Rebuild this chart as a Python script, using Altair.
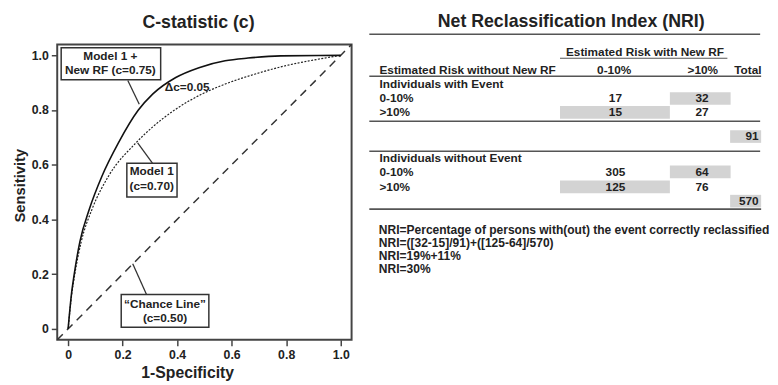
import altair as alt
import pandas as pd

FONT = "Liberation Sans"
INK = "#222222"

# ---------------- ROC data ----------------
fpr_new = [0, 0.012, 0.022, 0.043, 0.078, 0.124, 0.184, 0.257, 0.311, 0.395, 0.48, 0.576, 0.66, 0.78, 1.0]
tpr_new = [0, 0.125, 0.197, 0.318, 0.438, 0.558, 0.679, 0.799, 0.859, 0.919, 0.955, 0.98, 0.99, 0.998, 1.0]
fpr_m1 = [0, 0.013, 0.024, 0.048, 0.088, 0.148, 0.248, 0.311, 0.389, 0.492, 0.576, 0.684, 0.793, 0.913, 1.0]
tpr_m1 = [0, 0.125, 0.197, 0.318, 0.438, 0.558, 0.679, 0.739, 0.799, 0.859, 0.895, 0.931, 0.961, 0.985, 1.0]
chance = [-0.04, 1.04]
axis_ticks = [0, 0.2, 0.4, 0.6, 0.8, 1.0]

box_lines = [["Model 1 +", "New RF (c=0.75)"], ["Model 1", "(c=0.70)"], ["\u201cChance Line\u201d", "(c=0.50)"]]
delta_label = "\u0394c=0.05"

# ---------------- NRI table data ----------------
col_labels = ["0-10%", ">10%"]
row_labels = ["0-10%", ">10%"]
with_event = [[17, 32], [15, 27]]
without_event = [[305, 64], [125, 76]]
totals = [91, 570]
section_labels = ["Individuals with Event", "Individuals without Event"]
formula_lines = [
    "NRI=Percentage of persons with(out) the event correctly reclassified",
    "NRI=([32-15]/91)+([125-64]/570)",
    "NRI=19%+11%",
    "NRI=30%",
]

# ---------------- left panel ----------------
dom = [-0.04, 1.04]
sx = alt.Scale(domain=dom, nice=False, zero=False)
sy = alt.Scale(domain=dom, nice=False, zero=False)
lab_expr = "datum.value == 0 ? '0' : format(datum.value, '.1f')"
X = alt.X("x:Q", scale=sx, axis=alt.Axis(values=axis_ticks, labelExpr=lab_expr, title="1-Specificity",
                                         titleX=132, titleFontSize=16))
Y = alt.Y("y:Q", scale=sy, axis=alt.Axis(values=axis_ticks, labelExpr=lab_expr, title="Sensitivity", titleY=143))

d_chance = pd.DataFrame({"x": chance, "y": chance})
d_new = pd.DataFrame({"x": fpr_new, "y": tpr_new})
d_m1 = pd.DataFrame({"x": fpr_m1, "y": tpr_m1})

l_chance = alt.Chart(d_chance).mark_line(color="#333", strokeWidth=1.5, strokeDash=[8, 6]).encode(x=X, y=Y)
l_new = alt.Chart(d_new).mark_line(color="#111", strokeWidth=1.6, interpolate="monotone").encode(x=X, y=Y)
l_m1 = alt.Chart(d_m1).mark_line(color="#222", strokeWidth=1.2, strokeDash=[2, 1.5], interpolate="monotone").encode(x=X, y=Y)

# annotation geometry (layout)
ptr = pd.DataFrame({
    "x": [0.219, 0.3093, 0.2876], "y": [0.908, 0.6055, 0.1256],
    "x2": [0.261, 0.2551, 0.237], "y2": [0.8215, 0.680, 0.2383],
})
l_ptr = alt.Chart(ptr).mark_rule(color="#333", strokeWidth=1.3).encode(
    x=alt.X("x:Q", scale=sx), y=alt.Y("y:Q", scale=sy), x2="x2:Q", y2="y2:Q")

boxes = pd.DataFrame({
    "x": [-0.0255, 0.2154, 0.1948], "x2": [0.3395, 0.3996, 0.5163],
    "y": [1.028, 0.6055, 0.1256], "y2": [0.9104, 0.482, 0.0058],
})
l_box = alt.Chart(boxes).mark_rect(fill="white", stroke="#333", strokeWidth=1.5).encode(
    x=alt.X("x:Q", scale=sx), y=alt.Y("y:Q", scale=sy), x2="x2:Q", y2="y2:Q")

box_cx = [0.155, 0.3068, 0.3555]
box_ly = [[0.998, 0.9464], [0.578, 0.5216], [0.0922, 0.0382]]
rows = []
for i, lines in enumerate(box_lines):
    for j, t in enumerate(lines):
        rows.append({"x": box_cx[i], "y": box_ly[i][j], "t": t})
rows.append({"x": 0.4368, "y": 0.8842, "t": delta_label})
l_txt = alt.Chart(pd.DataFrame(rows)).mark_text(fontSize=12, fontWeight="bold", color=INK, font=FONT, baseline="middle").encode(
    x=alt.X("x:Q", scale=sx), y=alt.Y("y:Q", scale=sy), text="t:N")

left = alt.layer(l_chance, l_m1, l_new, l_ptr, l_box, l_txt).properties(
    width=299, height=300,
    title=alt.TitleParams("C-statistic (c)", fontSize=18, fontWeight="bold", color=INK, font=FONT, offset=10, dx=-6),
    view=alt.ViewBackground(stroke="#444", strokeWidth=2),
)

# ---------------- right panel (table) ----------------
rx = alt.Scale(domain=[370, 770], nice=False, zero=False)
ry = alt.Scale(domain=[42, 342], nice=False, zero=False, reverse=True)
RX = alt.X("x:Q", scale=rx, axis=None)
RY = alt.Y("y:Q", scale=ry, axis=None)

LEFT_X = 383.3
COL_X = [623, 711]
TOTAL_X = 768.5
row_y = [[97, 111], [171.5, 186.7]]
section_y = [82.3, 157.3]
total_y = [135.6, 201.2]
cell_edges = [(566.7, 678.3), (678.3, 740)]
half_h = 6.4
formula_y = [230.5, 243.8, 257.1, 270.4]

def txt(df, align="center", size=12, **kw):
    return alt.Chart(df).mark_text(fontSize=size, fontWeight="bold", color=INK, font=FONT,
                                   baseline="middle", align=align, **kw).encode(x=RX, y=RY, text="t:N")

# gray boxes: reclassified cells (off-diagonal) and totals
rects = []
for s, mat in enumerate([with_event, without_event]):
    for r in range(2):
        for c in range(2):
            if r != c:
                rects.append({"x": cell_edges[c][0], "x2": cell_edges[c][1],
                              "y": row_y[s][r] - half_h, "y2": row_y[s][r] + half_h})
    rects.append({"x": 739.5, "x2": 771, "y": total_y[s] - half_h, "y2": total_y[s] + half_h})
r_rect = alt.Chart(pd.DataFrame(rects)).mark_rect(fill="#d3d3d3").encode(x=RX, y=RY, x2="x2:Q", y2="y2:Q")

rules = pd.DataFrame({"x": [373] * 5, "x2": [770, 771, 770, 770, 771], "y": [31.7, 74.3, 120, 150.5, 209.3]})
r_rule = alt.Chart(rules).mark_rule(color="#555", strokeWidth=1.6).encode(x=RX, x2="x2:Q", y=RY)
under = pd.DataFrame({"x": [566.7], "x2": [736.7], "y": [56]})
r_under = alt.Chart(under).mark_rule(color="#555", strokeWidth=1.1).encode(x=RX, x2="x2:Q", y=RY)

center_rows = [{"x": 653, "y": 50, "t": "Estimated Risk with New RF"},
               {"x": 621.7, "y": 67.7, "t": col_labels[0]},
               {"x": 711.7, "y": 67.7, "t": col_labels[1]},
               {"x": 757.5, "y": 67.7, "t": "Total"}]
for s, mat in enumerate([with_event, without_event]):
    for r in range(2):
        for c in range(2):
            center_rows.append({"x": COL_X[c], "y": row_y[s][r], "t": str(mat[r][c])})
left_rows = [{"x": LEFT_X, "y": 67.7, "t": "Estimated Risk without New RF"}]
for s in range(2):
    left_rows.append({"x": LEFT_X, "y": section_y[s], "t": section_labels[s]})
    for r in range(2):
        left_rows.append({"x": LEFT_X, "y": row_y[s][r], "t": row_labels[r]})
formula_rows = [{"x": 382.7, "y": formula_y[k], "t": line} for k, line in enumerate(formula_lines)]
right_rows = [{"x": TOTAL_X, "y": total_y[s], "t": str(totals[s])} for s in range(2)]

r_title = txt(pd.DataFrame([{"x": 578, "y": 19, "t": "Net Reclassification Index (NRI)"}]), size=18)

right = alt.layer(
    r_rect, r_rule, r_under,
    txt(pd.DataFrame(center_rows)),
    txt(pd.DataFrame(left_rows), align="left"),
    txt(pd.DataFrame(formula_rows), align="left", size=12.2),
    txt(pd.DataFrame(right_rows), align="right"),
    r_title,
).properties(width=400, height=300, view=alt.ViewBackground(stroke="transparent"))

chart = alt.hconcat(left, right, spacing=15, bounds="flush").properties(
    padding={"left": 3, "top": 1, "right": 0, "bottom": 2}
).configure(font=FONT).configure_axis(
    domain=False, grid=False, tickColor="#444", tickSize=6, tickWidth=1.5,
    labelFont=FONT, labelFontSize=12.5, labelFontWeight="bold", labelColor=INK, labelPadding=3,
    titleFont=FONT, titleFontSize=15, titleFontWeight="bold", titleColor=INK, titlePadding=4,
)

chart.save("out.html", embed_options={"renderer": "svg", "actions": False})
